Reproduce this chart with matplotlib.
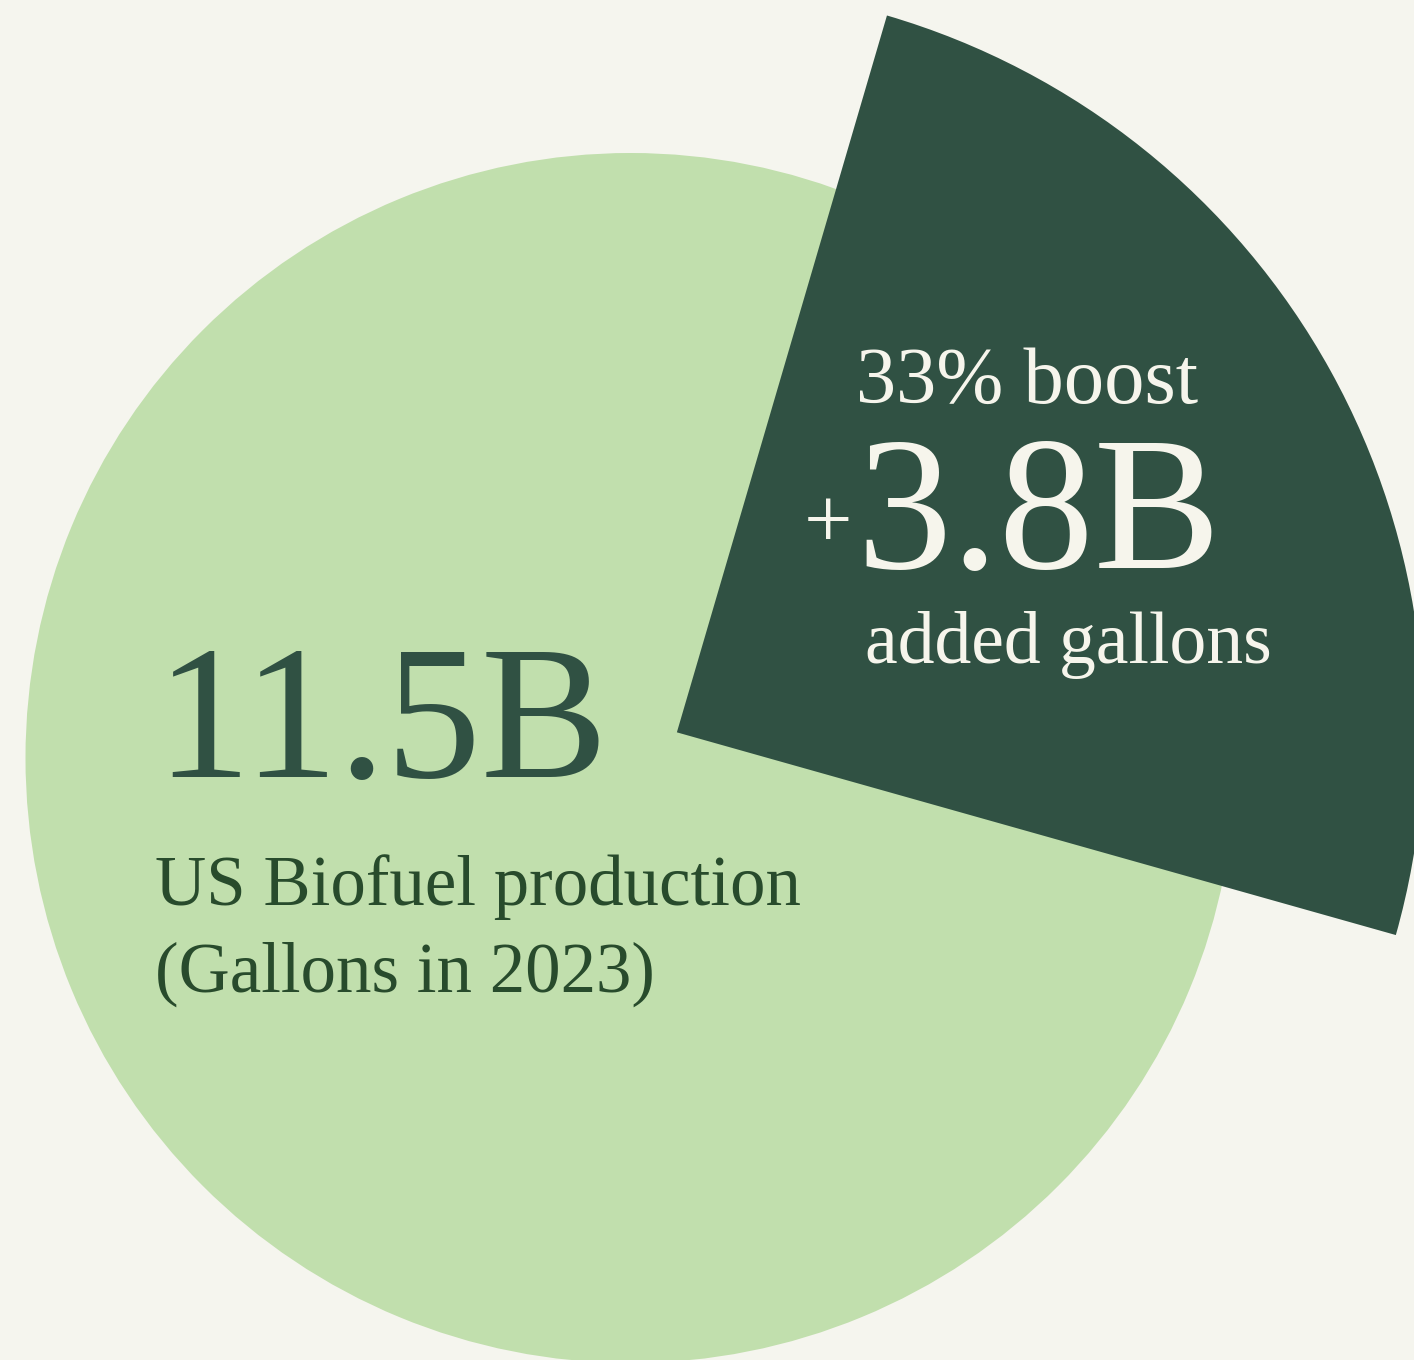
import matplotlib
matplotlib.use("Agg")
import matplotlib.pyplot as plt

# ---- data ----
base_value = 11.5          # billion gallons, 2023
added_value = 3.8          # billion gallons added
base_label = "11.5B"
added_label = "3.8B"
boost_label = "33% boost"
base_caption = ["US Biofuel production", "(Gallons in 2023)"]
added_caption = "added gallons"

# ---- style ----
W, H = 1414, 1360
BG = "#F5F5EE"
LIGHT = "#C1DFAD"
DARK = "#305143"
LABEL_DARK = "#284B2C"
CREAM = "#F6F5EC"
FONT = ["Liberation Serif", "DejaVu Serif"]

fig = plt.figure(figsize=(W / 100, H / 100), dpi=100)
fig.patch.set_facecolor(BG)
ax = fig.add_axes([0, 0, 1, 1])
ax.set_facecolor(BG)

center = (630.5, H - 758)
total = base_value + added_value
span = 360.0 * added_value / total
mid_angle = 28.96
start = mid_angle - span / 2

# base circle (whole production)
ax.pie([total], radius=605, center=center, colors=[LIGHT],
       wedgeprops=dict(linewidth=0), frame=True)
# exploded added wedge
wedges, _ = ax.pie([added_value, base_value], radius=747, center=center,
                   explode=[53, 0], startangle=start, counterclock=True,
                   colors=[DARK, LIGHT], wedgeprops=dict(linewidth=0), frame=True)
wedges[1].set_visible(False)

ax.set_xlim(0, W)
ax.set_ylim(0, H)
ax.set_aspect("equal")
ax.axis("off")

def px(x, y):
    return x, H - y

# texts on light circle
ax.text(*px(155, 777), base_label, fontsize=137, color=DARK, family=FONT,
        ha="left", va="baseline")
ax.text(*px(155, 905), base_caption[0], fontsize=51, color=LABEL_DARK, family=FONT,
        ha="left", va="baseline")
ax.text(*px(155, 992), base_caption[1], fontsize=51, color=LABEL_DARK, family=FONT,
        ha="left", va="baseline")

# texts on dark wedge
ax.text(*px(856, 403), boost_label, fontsize=58, color=CREAM, family=FONT,
        ha="left", va="baseline")
ax.text(*px(828, 527), "+", fontsize=62, color=CREAM, family=FONT,
        ha="center", va="center")
ax.text(*px(856, 568), added_label, fontsize=137, color=CREAM, family=FONT,
        ha="left", va="baseline")
ax.text(*px(865, 663), added_caption, fontsize=53, color=CREAM, family=FONT,
        ha="left", va="baseline")

fig.savefig("out.png", dpi=100, facecolor=BG)
